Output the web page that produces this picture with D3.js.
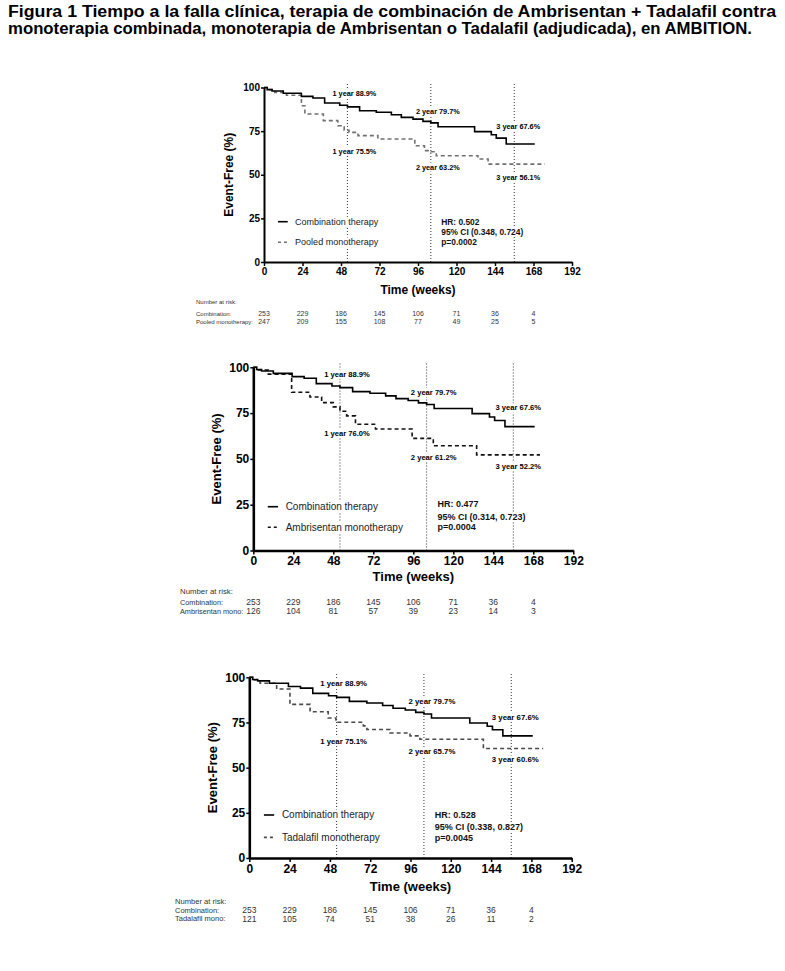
<!DOCTYPE html>
<html>
<head>
<meta charset="utf-8">
<script src="https://cdn.jsdelivr.net/npm/d3@7"></script>
<style>
body { margin: 0; background: #fff; }
svg { display: block; font-family: "Liberation Sans", Arial, sans-serif; }
</style>
</head>
<body>
<svg id="fig" width="785" height="971"></svg>
<script>
// ---- data ----
var titleLines = [
    "Figura 1 Tiempo a la falla clínica, terapia de combinación de Ambrisentan + Tadalafil contra",
    "monoterapia combinada, monoterapia de Ambrisentan o Tadalafil (adjudicada), en AMBITION."
];

var xTicks = [0, 24, 48, 72, 96, 120, 144, 168, 192];
var yTicks = [0, 25, 50, 75, 100];
var landmarkWeeks = [52, 104, 156];
var riskWeeks = [0, 24, 48, 72, 96, 120, 144, 168];

// combination therapy (same curve in all three panels)
var comboWeeks = [0, 2, 5, 12, 23.3, 30.5, 37.8, 47.2, 52, 59.6, 70, 79.4, 85.6, 92.9, 99.1, 104, 108.5, 131.3, 141.7, 144.8, 151];
var comboSurv  = [100, 98.8, 98.0, 96.7, 94.9, 94.0, 91.1, 89.8, 88.9, 86.7, 85.8, 84.4, 82.9, 81.9, 80.6, 79.7, 77.5, 74.7, 72.9, 71.0, 67.6];
var comboEnd = 168.8;

// pooled monotherapy
var pooledWeeks = [0, 2, 6.7, 14, 23.3, 25.5, 37, 46, 50, 53, 58.6, 71, 94, 100, 104, 107.4, 133.4, 139.7];
var pooledSurv  = [100, 98.8, 97.2, 95.6, 89.5, 84.8, 81.0, 78.1, 75.5, 74.3, 72.4, 70.5, 66.6, 63.8, 63.2, 60.9, 59.0, 56.1];
var pooledEnd = 175;

// ambrisentan monotherapy
var ambriWeeks = [0, 3, 9, 23, 34, 41, 48, 52, 56, 61.3, 73.3, 95.3, 108, 134];
var ambriSurv  = [100, 98.5, 96.3, 86.4, 83.8, 80.7, 78.4, 76.0, 73.5, 68.9, 66.3, 61.2, 57.2, 52.2];
var ambriEnd = 172;

// tadalafil monotherapy
var tadaWeeks = [0, 2, 6.4, 16.3, 24.2, 36.2, 47, 51.6, 67.9, 70, 83.8, 95.7, 101.6, 139.4];
var tadaSurv  = [100, 98.5, 96.7, 93.5, 85.0, 80.9, 77.5, 75.1, 73.1, 71.1, 69.2, 67.6, 65.7, 60.6];
var tadaEnd = 175;

var comboLandmarks  = ["1 year 88.9%", "2 year 79.7%", "3 year 67.6%"];
var pooledLandmarks = ["1 year 75.5%", "2 year 63.2%", "3 year 56.1%"];
var ambriLandmarks  = ["1 year 76.0%", "2 year 61.2%", "3 year 52.2%"];
var tadaLandmarks   = ["1 year 75.1%", "2 year 65.7%", "3 year 60.6%"];

var hrPooled = ["HR: 0.502", "95% CI (0.348, 0.724)", "p=0.0002"];
var hrAmbri  = ["HR: 0.477", "95% CI (0.314, 0.723)", "p=0.0004"];
var hrTada   = ["HR: 0.528", "95% CI (0.338, 0.827)", "p=0.0045"];

var comboRisk  = [253, 229, 186, 145, 106, 71, 36, 4];
var pooledRisk = [247, 209, 155, 108, 77, 49, 25, 5];
var ambriRisk  = [126, 104, 81, 57, 39, 23, 14, 3];
var tadaRisk   = [121, 105, 74, 51, 38, 26, 11, 2];

// ---- layout ----
var svg = d3.select("#fig");

svg.selectAll("text.title").data(titleLines).enter().append("text")
    .attr("class", "title")
    .attr("x", 8)
    .attr("y", function(d, i) { return 16.5 + i * 17; })
    .attr("textLength", function(d, i) { return i == 0 ? 768 : 744; })
    .attr("lengthAdjust", "spacingAndGlyphs")
    .style("font-size", "16px")
    .style("font-weight", "bold")
    .text(function(d) { return d; });

var panels = [
    {left: 264, right: 572, top: 87.5, bottom: 262,
     tickFont: 10, titleFont: 12, yTitleX: 229, xTitleY: 294, axisW: 2,
     annFont: 7.3, annUpper: [96.8, 86.5, 77.4], annLower: [63.6, 54.4, 48.7], annDx: [7, 7, 4],
     legFont: 9, hrFont: 8.4, legY: [23.1, 11.3], hrY: [23.1, 17.4, 11.3],
     mono: {weeks: pooledWeeks, surv: pooledSurv, end: pooledEnd, color: "#707070"},
     monoName: "Pooled monotherapy", monoLm: pooledLandmarks, hr: hrPooled,
     riskX: 196, riskY: [302, 313.5, 321.5], riskHeadFont: 6, riskLabFont: 6, riskNumFont: 7, riskLabMax: 60,
     riskLabels: ["Combination:", "Pooled monotherapy:"], monoRisk: pooledRisk},
    {left: 253.3, right: 573.3, top: 367.3, bottom: 550.5,
     tickFont: 12, titleFont: 13, yTitleX: 216, xTitleY: 581, axisW: 2.6,
     annFont: 7.6, annUpper: [96.3, 86.4, 77.9], annLower: [64.0, 50.9, 46.1], annDx: [7, 7, 5],
     legFont: 10, hrFont: 9, legY: [23.9, 12.7], hrY: [25.4, 18.4, 12.7],
     mono: {weeks: ambriWeeks, surv: ambriSurv, end: ambriEnd, color: "#111"},
     monoName: "Ambrisentan monotherapy", monoLm: ambriLandmarks, hr: hrAmbri,
     riskX: 180, riskY: [591.5, 602.5, 611], riskHeadFont: 7.8, riskLabFont: 7.3, riskNumFont: 8.5, riskLabMax: 66,
     riskLabels: ["Combination:", "Ambrisentan mono:"], monoRisk: ambriRisk},
    {left: 249.3, right: 571.7, top: 677.3, bottom: 858,
     tickFont: 12, titleFont: 13, yTitleX: 212, xTitleY: 891, axisW: 2.6,
     annFont: 7.8, annUpper: [96.7, 86.8, 78.1], annLower: [64.6, 59.1, 54.4], annDx: [7, 8, 4],
     legFont: 10, hrFont: 9, legY: [23.8, 11.4], hrY: [23.8, 17, 11.4],
     mono: {weeks: tadaWeeks, surv: tadaSurv, end: tadaEnd, color: "#4a4a4a"},
     monoName: "Tadalafil monotherapy", monoLm: tadaLandmarks, hr: hrTada,
     riskX: 175, riskY: [901.5, 910.5, 918.8], riskHeadFont: 7.6, riskLabFont: 7.5, riskNumFont: 8.5, riskLabMax: 60,
     riskLabels: ["Combination:", "Tadalafil mono:"], monoRisk: tadaRisk}
];

// white box behind a text so the dotted lines stop there
function addBg(g, sel) {
    sel.each(function() {
        var node = this;
        var b = node.getBBox();
        g.insert("rect", function() { return node; })
            .attr("x", b.x - 1).attr("y", b.y)
            .attr("width", b.width + 2).attr("height", b.height)
            .attr("fill", "#fff");
    });
}

function stepPoints(weeks, surv, end) {
    var pts = weeks.map(function(w, i) { return [w, surv[i]]; });
    pts.push([end, surv[surv.length - 1]]);
    return pts;
}

function drawPanel(cfg) {
    var g = svg.append("g");
    var x = d3.scaleLinear().domain([0, 192]).range([cfg.left, cfg.right]);
    var y = d3.scaleLinear().domain([0, 100]).range([cfg.bottom, cfg.top]);

    // landmark dotted lines
    g.selectAll("line.lm").data(landmarkWeeks).enter().append("line")
        .attr("x1", function(d) { return x(d); }).attr("x2", function(d) { return x(d); })
        .attr("y1", y(0)).attr("y2", y(100) - 5)
        .attr("stroke", "#333").attr("stroke-width", 1).attr("stroke-dasharray", "1,2");

    var line = d3.line()
        .x(function(d) { return x(d[0]); })
        .y(function(d) { return y(d[1]); })
        .curve(d3.curveStepAfter);

    g.append("path")
        .attr("d", line(stepPoints(cfg.mono.weeks, cfg.mono.surv, cfg.mono.end)))
        .attr("fill", "none").attr("stroke", cfg.mono.color)
        .attr("stroke-width", 1.6).attr("stroke-dasharray", "4,3");

    g.append("path")
        .attr("d", line(stepPoints(comboWeeks, comboSurv, comboEnd)))
        .attr("fill", "none").attr("stroke", "#000").attr("stroke-width", 1.6);

    // axes
    var ya = g.append("g").attr("transform", "translate(" + cfg.left + ",0)")
        .call(d3.axisLeft(y).tickValues(yTicks).tickSize(3).tickSizeOuter(0).tickPadding(1));
    var xa = g.append("g").attr("transform", "translate(0," + cfg.bottom + ")")
        .call(d3.axisBottom(x).tickValues(xTicks).tickSize(4).tickSizeOuter(0).tickPadding(2));
    [ya, xa].forEach(function(a) {
        a.select(".domain").attr("stroke", "#000").attr("stroke-width", cfg.axisW);
        a.selectAll(".tick line").attr("stroke", "#000").attr("stroke-width", 1.5);
        a.selectAll(".tick text")
            .style("font-family", "'Liberation Sans', Arial, sans-serif")
            .style("font-size", cfg.tickFont + "px").style("font-weight", "bold").attr("fill", "#000");
    });

    g.append("text")
        .attr("transform", "translate(" + cfg.yTitleX + "," + ((cfg.top + cfg.bottom) / 2) + ") rotate(-90)")
        .attr("text-anchor", "middle").attr("dy", "0.35em")
        .style("font-size", cfg.titleFont + "px").style("font-weight", "bold")
        .text("Event-Free (%)");
    g.append("text")
        .attr("x", (cfg.left + cfg.right) / 2).attr("y", cfg.xTitleY)
        .attr("text-anchor", "middle")
        .style("font-size", cfg.titleFont + "px").style("font-weight", "bold")
        .text("Time (weeks)");

    // landmark annotations
    var ann = [];
    landmarkWeeks.forEach(function(w, i) {
        ann.push({w: w, dx: cfg.annDx[i], v: cfg.annUpper[i], t: comboLandmarks[i]});
        ann.push({w: w, dx: cfg.annDx[i], v: cfg.annLower[i], t: cfg.monoLm[i]});
    });
    var at = g.selectAll("text.ann").data(ann).enter().append("text")
        .attr("class", "ann")
        .attr("x", function(d) { return x(d.w) + d.dx; })
        .attr("y", function(d) { return y(d.v); })
        .attr("dy", "0.35em").attr("text-anchor", "middle")
        .style("font-size", cfg.annFont + "px").style("font-weight", "bold").attr("fill", "#000")
        .text(function(d) { return d.t; });
    addBg(g, at);

    // legend
    var leg = [{t: "Combination therapy", dash: null, c: "#000"},
               {t: cfg.monoName, dash: "3,3", c: cfg.mono.color}];
    leg.forEach(function(d, i) {
        g.append("line")
            .attr("x1", x(8.7)).attr("x2", x(14.8))
            .attr("y1", y(cfg.legY[i])).attr("y2", y(cfg.legY[i]))
            .attr("stroke", d.c).attr("stroke-width", 1.6)
            .attr("stroke-dasharray", d.dash);
        var t = g.append("text")
            .attr("x", x(19.4)).attr("y", y(cfg.legY[i])).attr("dy", "0.35em")
            .style("font-size", cfg.legFont + "px").attr("fill", "#222")
            .text(d.t);
        addBg(g, t);
    });

    var ht = g.selectAll("text.hr").data(cfg.hr).enter().append("text")
        .attr("class", "hr")
        .attr("x", x(110.5)).attr("y", function(d, i) { return y(cfg.hrY[i]); })
        .attr("dy", "0.35em")
        .style("font-size", cfg.hrFont + "px").style("font-weight", "bold").attr("fill", "#111")
        .text(function(d) { return d; });
    addBg(g, ht);

    // number at risk table
    var rt = g.append("g").attr("fill", "#333");
    rt.append("text").attr("x", cfg.riskX).attr("y", cfg.riskY[0]).attr("dy", "0.35em")
        .style("font-size", cfg.riskHeadFont + "px").text("Number at risk:");
    [comboRisk, cfg.monoRisk].forEach(function(row, r) {
        var lab = rt.append("text").attr("x", cfg.riskX).attr("y", cfg.riskY[r + 1]).attr("dy", "0.35em")
            .style("font-size", cfg.riskLabFont + "px").text(cfg.riskLabels[r]);
        if (lab.node().getComputedTextLength() > cfg.riskLabMax) {
            lab.attr("textLength", cfg.riskLabMax).attr("lengthAdjust", "spacingAndGlyphs");
        }
        rt.selectAll("text.n" + r).data(row).enter().append("text")
            .attr("class", "n" + r)
            .attr("x", function(d, i) { return x(riskWeeks[i]); })
            .attr("y", cfg.riskY[r + 1]).attr("dy", "0.35em")
            .attr("text-anchor", "middle")
            .style("font-size", cfg.riskNumFont + "px")
            .text(function(d) { return d; });
    });
}

panels.forEach(drawPanel);
</script>
</body>
</html>
